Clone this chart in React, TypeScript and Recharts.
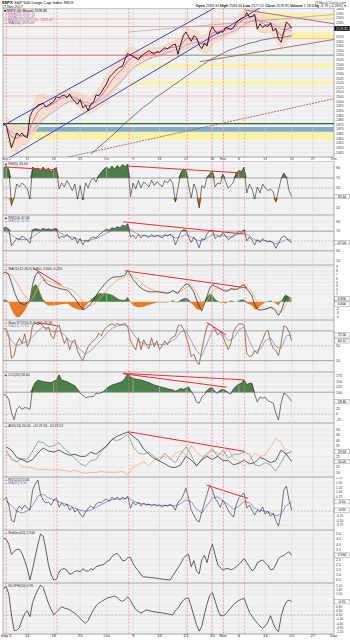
import React from 'react';
import { ComposedChart, Line, Area, XAxis, YAxis, CartesianGrid, ReferenceLine, ReferenceArea } from 'recharts';

const W = 350;
const XD: [number, number] = [-0.6, 62];
const FONT = '"Liberation Sans", Arial, sans-serif';

// ---- x axis (trading-day index, Sep 5 = 0) ----
const dateTicks = [0, 4, 9, 14, 19, 24, 29, 34, 39, 41, 44, 49, 54, 58, 62];
const dateLabels = ['Sep 5', '11', '18', '25', 'Oct', '9', '16', '23', '30', 'Nov', '6', '13', '20', '27', 'Dec'];
const markerDays = [0, 9.6, 23.2, 34.3, 38.9, 41.1, 45.1];

// ---- half-day series, t = -0.5 .. 54 ----
const priceClose = [
  2476, 2474, 2462, 2450, 2458, 2466, 2463, 2466, 2462, 2461,
  2484, 2490, 2493, 2496, 2497, 2498, 2494, 2496, 2498, 2500,
  2505, 2504, 2506, 2507, 2504, 2508, 2503, 2500, 2497, 2502,
  2493, 2496, 2490, 2497, 2499, 2507, 2506, 2510, 2515, 2519,
  2526, 2529, 2532, 2535, 2537, 2538, 2546, 2552, 2550, 2549,
  2547, 2545, 2549, 2551, 2553, 2555, 2553, 2551, 2554, 2553,
  2556, 2558, 2557, 2559, 2561, 2562, 2551, 2562, 2571, 2575,
  2570, 2565, 2571, 2569, 2561, 2557, 2563, 2560, 2574, 2581,
  2576, 2573, 2575, 2575, 2580, 2579, 2578, 2580, 2585, 2588,
  2590, 2591, 2596, 2591, 2592, 2594, 2578, 2584, 2580, 2582,
  2581, 2585, 2576, 2579, 2568, 2564, 2575, 2586, 2583, 2579,
];
const rsi5 = [
  90, 93, 88, 15, 30, 58, 52, 60, 55, 48,
  28, 92, 88, 90, 84, 92, 85, 90, 82, 88,
  91, 48, 60, 52, 65, 56, 45, 58, 28, 55,
  26, 60, 50, 65, 70, 62, 75, 82, 88, 92,
  86, 94, 88, 95, 90, 97, 93, 98, 33, 60,
  48, 65, 50, 62, 58, 52, 66, 55, 62, 58,
  52, 65, 60, 68, 60, 22, 50, 80, 88, 85,
  55, 30, 58, 45, 10, 55, 50, 72, 78, 85,
  52, 60, 58, 78, 62, 50, 55, 62, 80, 85,
  83, 92, 40, 58, 48, 28, 52, 40, 58, 50,
  45, 48, 42, 22, 45, 68, 80, 72, 45, 33,
];
const rsi14 = [
  76, 78, 74, 40, 48, 55, 52, 60, 57, 52,
  45, 73, 75, 74, 72, 76, 73, 75, 72, 74,
  76, 55, 60, 57, 63, 58, 52, 58, 45, 55,
  42, 52, 48, 56, 58, 56, 62, 66, 70, 74,
  72, 77, 75, 79, 77, 82, 80, 85, 58, 62,
  55, 63, 56, 62, 60, 57, 63, 58, 62, 60,
  56, 63, 60, 64, 60, 42, 55, 68, 73, 72,
  58, 47, 58, 50, 36, 55, 52, 66, 70, 72,
  55, 60, 58, 67, 60, 53, 56, 60, 66, 69,
  68, 73, 50, 58, 52, 42, 53, 47, 55, 50,
  48, 50, 46, 35, 45, 56, 60, 57, 50, 47,
];
const macdLine = [
  7.5, 7.8, 7.0, 5.0, 2.8, 1.0, -0.2, -0.6, -0.8, -0.3,
  0.4, 4.5, 6.8, 7.8, 7.0, 6.2, 5.0, 4.5, 4.2, 3.9,
  3.7, 3.5, 3.3, 3.2, 3.1, 2.5, 1.6, 0.8, -0.2, -1.2,
  -2.1, -1.8, -1.3, -0.5, 0.4, 1.5, 2.7, 3.5, 4.4, 5.2,
  5.8, 6.3, 6.5, 6.5, 6.5, 6.7, 7.0, 8.2, 7.0, 5.8,
  5.0, 4.2, 3.6, 3.1, 2.8, 2.6, 2.6, 2.6, 2.6, 2.5,
  2.4, 2.3, 2.2, 2.4, 3.0, 2.5, 2.2, 3.2, 3.9, 4.6,
  4.6, 3.6, 2.5, 0.5, -1.2, -2.4, -0.5, 1.5, 3.5, 4.4,
  4.0, 3.8, 3.3, 3.0, 2.7, 2.9, 3.4, 3.3, 3.2, 3.6,
  4.2, 4.4, 3.3, 2.5, 1.5, -0.8, -2.0, -2.2, -2.1, -2.0,
  -1.7, -1.4, -1.8, -2.5, -3.6, -2.5, -0.5, 1.3, 1.2, 0.8,
];
const macdSignal = [
  7.0, 7.3, 7.3, 7.0, 6.2, 5.0, 3.8, 2.6, 1.6, 0.8,
  0.3, 0.8, 2.2, 3.8, 5.0, 5.6, 5.7, 5.5, 5.2, 4.9,
  4.6, 4.3, 4.0, 3.8, 3.6, 3.4, 3.0, 2.5, 1.8, 1.0,
  0.1, -0.6, -1.0, -1.0, -0.7, -0.2, 0.5, 1.3, 2.2, 3.0,
  3.8, 4.5, 5.1, 5.6, 5.9, 6.2, 6.5, 7.0, 7.1, 6.8,
  6.3, 5.7, 5.0, 4.4, 3.9, 3.5, 3.2, 3.0, 2.8, 2.7,
  2.6, 2.5, 2.4, 2.4, 2.6, 2.6, 2.4, 2.7, 3.1, 3.6,
  4.0, 4.0, 3.5, 2.4, 1.0, -0.4, -0.6, 0.2, 1.4, 2.6,
  3.3, 3.6, 3.5, 3.3, 3.1, 3.0, 3.1, 3.2, 3.2, 3.3,
  3.6, 3.9, 3.7, 3.2, 2.5, 1.2, 0.0, -1.0, -1.5, -1.8,
  -1.8, -1.7, -1.7, -2.0, -2.6, -2.7, -1.9, -0.6, 0.2, 0.6,
];
const slowSto = [
  85, 84, 70, 25, 30, 55, 65, 55, 74, 48,
  60, 92, 95, 93, 95, 90, 82, 88, 70, 64,
  85, 92, 72, 55, 66, 42, 58, 62, 40, 28,
  20, 35, 48, 55, 60, 65, 75, 70, 82, 88,
  92, 94, 91, 95, 92, 93, 95, 88, 60, 50,
  42, 66, 42, 62, 52, 44, 66, 48, 60, 42,
  50, 60, 52, 62, 68, 70, 90, 92, 85, 70,
  52, 28, 33, 18, 12, 42, 68, 90, 94, 90,
  82, 72, 78, 68, 55, 42, 55, 78, 88, 94,
  94, 92, 35, 28, 30, 40, 34, 50, 62, 76,
  82, 58, 45, 40, 30, 55, 90, 88, 78, 60,
];
const cci = [
  90, 85, 68, 8, -25, 22, 35, 22, 30, 28,
  22, 120, 145, 154, 152, 148, 146, 145, 144, 150,
  156, 179, 156, 152, 148, 142, 135, 130, 113, 95,
  86, 75, 78, 80, 80, 96, 94, 98, 104, 118,
  126, 133, 136, 141, 144, 150, 164, 186, 168, 164,
  160, 158, 156, 152, 148, 144, 138, 133, 130, 126,
  122, 120, 116, 113, 111, 105, 110, 117, 114, 118,
  124, 103, 85, 55, 50, 78, 88, 108, 118, 120,
  102, 95, 110, 112, 108, 96, 92, 115, 128, 136,
  142, 156, 135, 141, 141, 90, 55, 78, 73, 78,
  62, 55, 50, 5, -26, 50, 95, 90, 75, 58,
];
const roc = [
  0.58, 0.74, 0.32, -0.48, -0.58, 0.05, 0.27, 0.1, 0.32, 0.16,
  0.05, 1.12, 1.44, 1.65, 0.9, 0.58, 0.43, 0.48, 0.32, 0.58,
  0.69, 0.21, 0.43, 0.27, 0.37, 0.05, 0.21, -0.05, 0.1, -0.16,
  -0.32, -0.05, 0.16, 0.27, 0.16, 0.37, 0.48, 0.43, 0.58, 0.64,
  0.53, 0.74, 0.64, 0.74, 0.58, 0.74, 0.64, 0.8, 0.16, 0.48,
  0.32, 0.48, 0.27, 0.43, 0.32, 0.37, 0.27, 0.37, 0.27, 0.32,
  0.21, 0.32, 0.27, 0.37, 0.27, 0.05, 0.48, 0.58, 0.85, 1.22,
  0.69, 0.05, -0.21, -0.48, -0.58, -0.05, 0.43, 0.9, 1.38, 1.12,
  0.69, 0.48, 0.21, 0.58, 0.32, 0.05, -0.16, -0.32, 0.32, 0.69,
  0.85, 0.96, 0.16, 0.32, 0.05, -0.21, 0.05, -0.05, 0.21, -0.16,
  0, -0.27, -0.11, -0.48, -0.8, -0.11, 1.12, 1.33, 0.58, 0.05,
];
const stdDev = [
  4.6, 4.5, 4.0, 3.0, 3.3, 3.5, 3.5, 3.1, 2.4, 1.6,
  0.5, 1.6, 2.8, 4.0, 5.0, 4.8, 3.5, 2.0, 1.0, 0.5,
  0.55, 1.3, 1.55, 1.6, 1.45, 1.05, 1.15, 1.35, 1.4, 1.3,
  1.6, 1.4, 1.35, 1.6, 1.5, 1.8, 1.9, 1.96, 2.0, 2.3,
  2.4, 2.8, 3.0, 3.1, 2.8, 2.4, 2.4, 2.7, 2.7, 2.1,
  1.7, 1.4, 1.0, 0.8, 0.78, 0.76, 0.72, 0.7, 0.66, 0.62,
  0.58, 0.55, 0.52, 0.49, 0.9, 1.3, 1.7, 2.1, 2.6, 2.9,
  3.0, 1.8, 2.4, 1.4, 1.1, 2.5, 2.9, 2.2, 3.3, 4.0,
  3.0, 2.0, 1.7, 1.47, 1.6, 1.6, 1.5, 1.6, 1.8, 2.0,
  2.3, 2.6, 2.2, 1.8, 1.4, 1.6, 2.2, 2.35, 2.45, 2.2,
  1.9, 1.5, 1.55, 2.0, 2.6, 2.8, 2.9, 3.1, 3.27, 2.9,
];
const slope = [
  1.9, 2.02, 1.5, 0.0, -1.1, -1.1, -0.9, -0.35, 0.1, 0.3,
  -0.12, 0.9, 1.4, 1.8, 2.14, 1.95, 1.4, 0.83, 0.4, 0.02,
  0.2, 0.4, 0.6, 0.5, 0.45, 0.37, 0.25, 0.12, -0.05, -0.24,
  -0.45, -0.59, -0.38, 0.0, 0.36, 0.65, 0.85, 0.95, 1.08, 1.19,
  1.26, 1.31, 1.36, 1.25, 1.07, 0.98, 1.1, 1.31, 1.05, 0.7,
  0.4, 0.25, 0.13, 0.25, 0.36, 0.32, 0.26, 0.23, 0.2, 0.17,
  0.15, 0.12, 0.08, 0.04, 0.0, 0.3, 0.5, 0.8, 1.05, 1.2,
  1.2, 0.6, -0.05, -0.7, -1.15, -0.8, 0.05, 0.8, 1.4, 1.6,
  1.05, 0.4, -0.05, -0.05, 0.05, 0.3, 0.5, 0.75, 0.9, 1.05,
  1.12, 1.19, 0.7, 0.2, -0.1, -0.35, -0.59, -0.8, -0.95, -0.8,
  -0.5, -0.05, -0.6, -1.0, -1.19, -0.12, 0.55, 0.95, 1.07, 0.95,
];

// ---- daily series, t = 0 .. 54 ----
const ema20 = [
  2474, 2462, 2460, 2463, 2463, 2478, 2489, 2494, 2495, 2498,
  2502, 2505, 2506, 2504, 2501, 2496, 2495, 2501, 2506, 2514,
  2523, 2530, 2535, 2544, 2548, 2547, 2549, 2552, 2553, 2553,
  2556, 2558, 2559, 2560, 2568, 2568, 2567, 2562, 2562, 2574,
  2576, 2576, 2578, 2579, 2585, 2589, 2591, 2592, 2586, 2583,
  2583, 2578, 2571, 2578, 2580,
];
const ema50 = [
  2470, 2467, 2464, 2463, 2463, 2468, 2475, 2481, 2485, 2489,
  2493, 2497, 2500, 2501, 2501, 2499, 2498, 2499, 2502, 2506,
  2512, 2518, 2523, 2530, 2536, 2540, 2543, 2546, 2548, 2550,
  2552, 2554, 2556, 2557, 2561, 2563, 2564, 2563, 2563, 2567,
  2570, 2572, 2574, 2576, 2579, 2583, 2586, 2588, 2587, 2586,
  2585, 2582, 2578, 2578, 2576,
];
const ma200 = [
  null, null, null, null, null, null, null, null, null, null,
  null, null, null, null, null, null, 2443, 2448, 2453, 2458,
  2463, 2468, 2474, 2479, 2484, 2489, 2494, 2498, 2503, 2507,
  2511, 2515, 2519, 2523, 2527, 2531, 2535, 2539, 2543, 2546,
  2549, 2552, 2555, 2557, 2559, 2561, 2563, 2564, 2566, 2567,
  2568, 2569, 2569, 2570, 2571,
];
const bbLower = [
  2464, 2447, 2446, 2453, 2454, 2463, 2471, 2480, 2486, 2491,
  2495, 2499, 2500, 2498, 2493, 2487, 2487, 2491, 2494, 2500,
  2508, 2516, 2523, 2531, 2537, 2540, 2543, 2546, 2548, 2548,
  2551, 2553, 2552, 2552, 2557, 2558, 2558, 2553, 2552, 2561,
  2565, 2568, 2572, 2573, 2577, 2580, 2583, 2584, 2575, 2574,
  2575, 2567, 2558, 2566, 2570,
];
const bbUpper = [
  2484, 2477, 2474, 2473, 2472, 2493, 2507, 2508, 2504, 2505,
  2509, 2511, 2512, 2510, 2509, 2505, 2503, 2511, 2518, 2528,
  2538, 2544, 2547, 2557, 2559, 2554, 2555, 2558, 2558, 2558,
  2561, 2563, 2566, 2568, 2579, 2578, 2576, 2571, 2572, 2587,
  2587, 2584, 2584, 2585, 2593, 2598, 2599, 2600, 2597, 2592,
  2591, 2589, 2584, 2590, 2590,
];
const rsi14Ma = [
  70, 62, 55, 53, 53, 58, 66, 72, 73, 74,
  68, 62, 59, 56, 52, 50, 52, 55, 60, 66,
  71, 75, 78, 79, 70, 63, 61, 60, 60, 60,
  61, 62, 56, 58, 64, 58, 52, 50, 56, 63,
  62, 62, 58, 60, 64, 68, 60, 52, 50, 51,
  49, 44, 48, 53, 52,
];
const stoMa = [
  75, 60, 50, 55, 58, 68, 80, 88, 85, 78,
  80, 72, 60, 55, 42, 33, 40, 52, 62, 75,
  85, 90, 92, 90, 75, 60, 54, 52, 54, 52,
  53, 58, 64, 78, 80, 60, 40, 30, 55, 80,
  82, 74, 60, 65, 82, 88, 60, 38, 42, 60,
  66, 48, 45, 70, 72,
];
const rocMa = [
  0.5, 0.3, 0.0, -0.1, 0.0, 0.3, 0.8, 0.9, 0.7, 0.6,
  0.5, 0.4, 0.3, 0.15, 0.05, 0.0, 0.05, 0.2, 0.35, 0.5,
  0.6, 0.65, 0.65, 0.7, 0.55, 0.42, 0.38, 0.35, 0.33, 0.32,
  0.3, 0.3, 0.28, 0.4, 0.6, 0.5, 0.1, -0.1, 0.3, 0.7,
  0.75, 0.55, 0.35, 0.1, 0.25, 0.5, 0.45, 0.15, 0.05, 0.0,
  -0.1, -0.25, -0.15, 0.3, 0.5,
];
const adx = [
  34, 31, 24, 22, 19.5, 22, 28, 33, 30, 29,
  31, 28, 26, 27, 25, 25, 29, 27, 31, 35,
  41, 44, 46, 48, 44, 40, 32, 27, 23, 20.5,
  18, 15, 14.5, 17, 25, 21.6, 16, 22, 25, 22,
  25, 21, 21, 17, 18.5, 21.6, 18, 19, 24, 22,
  19, 21, 31, 27, 20,
];
const plusDi = [
  31, 22, 20, 23, 22, 30, 39, 38, 34, 35,
  38, 32, 28, 23, 18, 16, 21, 22, 30, 34,
  41, 40, 42, 46, 34, 28, 27, 29, 25, 21,
  28, 23, 19, 27, 34, 26, 16, 22, 28, 32,
  25, 31, 23, 27, 27, 29, 27, 17, 16, 19,
  17, 11, 19, 28, 29.5,
];
const minusDi = [
  27, 24, 20, 15, 15, 14, 12, 13, 12, 12.5,
  12, 12, 10.6, 12, 10, 9, 10, 9.5, 11, 10,
  10, 10, 11, 7.4, 15, 17, 20, 16, 22, 24,
  25, 22, 28, 30, 26, 35, 29, 25, 26, 30,
  28, 26, 33, 23, 20, 15.3, 21, 28, 25, 26,
  34, 42, 38, 27, 29.5,
];

// ---- annotation levels (data units) ----
type Pt = [number, number];
const blueChannel: [Pt, Pt][] = [[[-1.2, 2472], [40, 2603]], [[-1.2, 2433], [48.5, 2603]]];
const brownLines: [Pt, Pt][] = [[[45.1, 2599], [62, 2584]], [[36.6, 2543], [62, 2567]]];
const grayLines: [Pt, Pt][] = [[[23, 2575], [62, 2594]]];
const dashedLines: [Pt, Pt][] = [[[10.2, 2438], [62, 2503]]];
const pinkLevels = [2589, 2568, 2506];
const redLevels = [2581];
const supportRed = 2550;
const darkGreenLevel = 2476;
const yellowBands: [number, number, number][] = [[22.8, 2537, 2541], [23, 2518, 2522], [0.8, 2458.6, 2467.2], [44.7, 2590, 2595], [51.5, 2567, 2575]];
const blueBand: [number, number, number] = [0.8, 2467.2, 2472.4];

const rsi5Red: [Pt, Pt][] = [[[-0.2, 92], [9.6, 86]], [[23, 94], [44.7, 80]]];
const rsi14Red: [Pt, Pt][] = [[[22.1, 89], [45.1, 64]]];
const macdRed: [Pt, Pt][] = [[[5.1, 8.8], [10.5, 4.3]], [[22.4, 8.1], [45.5, 3.6]]];
const stoRed: [Pt, Pt][] = [[[5.8, 97], [9.8, 90]], [[37.9, 97], [41.6, 72]]];
const cciRed: [Pt, Pt][] = [[[22.1, 186], [45.1, 156]], [[22.1, 184], [41.7, 123]]];
const adxRed: [Pt, Pt][] = [[[23, 48.3], [45.1, 29.7]]];
const rocRed: [Pt, Pt][] = [[[37.9, 1.38], [45.7, 0.68]]];

const priceTicks = [2445, 2450, 2455, 2460, 2465, 2470, 2475, 2480, 2485, 2490, 2495, 2500, 2505, 2510, 2515, 2520, 2525, 2530, 2535, 2540, 2545, 2550, 2555, 2560, 2565, 2570, 2575, 2580, 2585, 2590, 2595, 2600];
const rsiTicks = [10, 30, 50, 70, 90];
const macdTicks = [-4, -3, -2, -1, 0, 1, 2, 3, 4, 5, 6, 7, 8, 9];
const stoTicks = [20, 50, 80];
const cciTicks = [-25, 0, 25, 50, 75, 100, 125, 150, 175];
const adxTicks = [10, 15, 20, 25, 30, 35, 40, 45, 50];
const rocTicks = [-0.75, -0.5, -0.25, 0, 0.25, 0.5, 0.75, 1, 1.25, 1.5, 1.75];
const stdTicks = [0.5, 1, 1.5, 2, 2.5, 3, 3.5, 4, 4.5, 5];
const slopeTicks = [-1.2, -0.9, -0.6, -0.3, 0, 0.3, 0.6, 0.9, 1.2, 1.5, 1.8, 2.1];

// current-value tags on the right axis
type Tag = { v: number; text: string; bg?: string; fg?: string; border?: string };
const priceTags: Tag[] = [{ v: 2578.85, text: '2578.85', bg: '#000', fg: '#fff', border: '#000' }];
const rsi5Tags: Tag[] = [{ v: 33, text: '33.44' }];
const rsi14Tags: Tag[] = [{ v: 47, text: '47.04' }];
const macdTags: Tag[] = [{ v: 0.8, text: '0.850' }, { v: -0.6, text: '0.600' }];
const stoTags: Tag[] = [{ v: 60, text: '60.12' }, { v: 72, text: '72.56' }];
const cciTags: Tag[] = [{ v: 58, text: '58.40' }];
const adxTags: Tag[] = [{ v: 29.5, text: '29.54' }, { v: 20, text: '20.05' }];
const rocTags: Tag[] = [{ v: 0.5, text: '0.50' }, { v: 0.05, text: '0.05' }];
const stdTags: Tag[] = [{ v: 2.94, text: '2.944' }];
const slopeTags: Tag[] = [{ v: 0.95, text: '0.95' }];

// ---- build the table ----
const table = priceClose.map((c, i) => {
  const t = -0.5 + i * 0.5;
  const hist = macdLine[i] - macdSignal[i];
  const row: any = {
    t, close: c,
    rsi5: rsi5[i], rsi5Hi: Math.max(rsi5[i], 70), rsi5Lo: Math.min(rsi5[i], 30),
    rsi14: rsi14[i], rsi14Hi: Math.max(rsi14[i], 70),
    macd: macdLine[i], signal: macdSignal[i], histPos: Math.max(hist, 0), histNeg: Math.min(hist, 0),
    sto: slowSto[i],
    cci: cci[i], cciHi: Math.max(cci[i], 100),
    roc: roc[i], std: stdDev[i], slope: slope[i],
  };
  if (Number.isInteger(t) && t >= 0) {
    row.ema20 = ema20[t]; row.ema50 = ema50[t]; row.ma200 = ma200[t];
    row.bb = [bbLower[t], bbUpper[t]];
    row.rsi14Ma = rsi14Ma[t]; row.stoMa = stoMa[t]; row.rocMa = rocMa[t];
    row.adx = adx[t]; row.pdi = plusDi[t]; row.mdi = minusDi[t];
  }
  return row;
});

const GREEN = '#4b8048';
const ORANGE = '#e57c2c';
const RED = '#ff2a2a';

function ValTag(props: any) {
  const { viewBox, text, fg = '#000', border = '#777', bg = '#fff' } = props;
  if (!viewBox) return null;
  const x = (viewBox.x ?? 0) + (viewBox.width ?? 0) + 0.5;
  const y = viewBox.y ?? 0;
  return (
    <g>
      <rect x={x} y={y - 2.2} width={15} height={4.4} fill={bg} stroke={border} strokeWidth={0.4} />
      <text x={x + 7.5} y={y + 1.3} fontSize={3.4} textAnchor="middle" fill={fg} fontFamily={FONT}>{text}</text>
    </g>
  );
}

type PanelProps = {
  top: number; height: number; domain: [number, number]; ticks: number[]; tags?: Tag[];
  fmt?: (v: number) => string; axis?: number; axisFont?: number; tickFont?: number; children?: React.ReactNode;
};

function Panel({ top, height, domain, ticks, tags = [], fmt, axis = 0, axisFont = 3.6, tickFont = 3.6, children }: PanelProps) {
  const pxPerUnit = (height - axis) / (domain[1] - domain[0]);
  const shownTicks = ticks.filter((tk) => tags.every((g) => Math.abs(tk - g.v) * pxPerUnit > 4.2));
  return (
    <div style={{ position: 'absolute', left: 0, top, width: W, height }}>
      <ComposedChart width={W} height={height} data={table} margin={{ top: 0, right: 0, bottom: 0, left: 3 }}>
        <CartesianGrid vertical={false} stroke="#e1e1e1" strokeWidth={0.5} fill="#f2f2f2" />
        <XAxis type="number" dataKey="t" domain={XD} ticks={dateTicks} allowDataOverflow interval={0}
          height={axis} axisLine={false} tickLine={false} tickSize={0} tickMargin={0.2}
          tick={axis ? { fontSize: axisFont, fill: '#222', fontFamily: FONT } : false}
          tickFormatter={(v: number) => dateLabels[dateTicks.indexOf(v)] ?? ''} />
        <YAxis orientation="right" width={16} domain={domain} ticks={shownTicks} allowDataOverflow interval={0}
          axisLine={false} tickLine={false} tickSize={0} tickMargin={2}
          tick={{ fontSize: tickFont, fill: '#333', fontFamily: FONT }} tickFormatter={fmt} />
        {dateTicks.map((d) => <ReferenceLine key={'g' + d} x={d} stroke="#d4d4d4" strokeWidth={0.5} />)}
        {children}
        {markerDays.map((d) => <ReferenceLine key={'m' + d} x={d} stroke="#ff7a7a" strokeWidth={0.6} strokeDasharray="2 1.5" />)}
        <ReferenceArea x1={XD[0]} x2={XD[1]} y1={domain[0]} y2={domain[1]} fill="none" stroke="#8c8c8c" strokeWidth={0.7} />
        {tags.map((g, i) => (
          <ReferenceLine key={'tag' + i} y={g.v} stroke="none"
            label={<ValTag text={g.text} bg={g.bg} fg={g.fg} border={g.border} />} />
        ))}
      </ComposedChart>
    </div>
  );
}

const segs = (list: [Pt, Pt][], color: string, w: number, dash?: string, key = 's') =>
  list.map((s, i) => (
    <ReferenceLine key={key + i} segment={[{ x: s[0][0], y: s[0][1] }, { x: s[1][0], y: s[1][1] }]}
      stroke={color} strokeWidth={w} strokeDasharray={dash} ifOverflow="hidden" />
  ));

const lineProps = { dot: false, activeDot: false, isAnimationActive: false, type: 'linear' as const };
const fillProps = { stroke: 'none', fillOpacity: 1, isAnimationActive: false, dot: false, activeDot: false };

export default function App() {
  const txt = (x: number, y: number, s: string, color = '#000', size = 3.6, anchor: any = 'start') => (
    <text x={x} y={y} fontSize={size} fill={color} textAnchor={anchor} fontFamily={FONT}>{s}</text>
  );
  return (
    <div style={{ position: 'absolute', left: 0, top: 0, width: 350, height: 640, background: '#fff', fontFamily: FONT }}>
      {/* Price */}
      <Panel top={8} height={153} domain={[2440, 2601]} ticks={priceTicks} tags={priceTags} axis={4} axisFont={3.4} tickFont={3.4}>
        {yellowBands.map((b, i) => (
          <ReferenceArea key={'yb' + i} x1={b[0]} x2={XD[1]} y1={b[1]} y2={b[2]} fill="#fbf29a" fillOpacity={0.85} stroke="none" />
        ))}
        <ReferenceArea x1={blueBand[0]} x2={XD[1]} y1={blueBand[1]} y2={blueBand[2]} fill="#7fa7c6" fillOpacity={0.95} stroke="none" />
        {pinkLevels.map((v) => <ReferenceLine key={'pk' + v} y={v} stroke="#f2a4a4" strokeWidth={0.6} />)}
        {redLevels.map((v) => <ReferenceLine key={'rd' + v} y={v} stroke="#ee7a7a" strokeWidth={0.6} />)}
        <ReferenceLine segment={[{ x: XD[0], y: supportRed }, { x: 32.5, y: supportRed }]} stroke="#e84545" strokeWidth={0.8} />
        <ReferenceLine segment={[{ x: 32.5, y: supportRed }, { x: XD[1], y: supportRed }]} stroke="#4f8f4f" strokeWidth={0.8} />
        <ReferenceLine y={darkGreenLevel} stroke="#2e6b2e" strokeWidth={1.3} />
        <Area dataKey="bb" connectNulls fill="#f9dcc8" fillOpacity={0.9} stroke="#f1b995" strokeWidth={0.4} isAnimationActive={false} dot={false} activeDot={false} />
        {segs(blueChannel, '#2b2bdc', 0.9, undefined, 'bc')}
        {segs(brownLines, '#a34f4f', 0.8, undefined, 'br')}
        {segs(grayLines, '#9a9a9a', 0.6, undefined, 'gr')}
        {segs(dashedLines, '#8a5a4a', 0.8, '2 1', 'dl')}
        <Line dataKey="ma200" connectNulls stroke="#55557a" strokeWidth={0.8} {...lineProps} />
        <Line dataKey="ema50" connectNulls stroke="#9a9ae0" strokeWidth={0.8} {...lineProps} />
        <Line dataKey="ema20" connectNulls stroke="#f052a8" strokeWidth={0.9} {...lineProps} />
        <Line dataKey="close" stroke="#111" strokeWidth={0.9} {...lineProps} />
      </Panel>

      {/* RSI(5) */}
      <Panel top={161} height={54} domain={[-4, 104]} ticks={rsiTicks} tags={rsi5Tags}>
        <ReferenceLine y={70} stroke="#8a8a8a" strokeWidth={0.7} />
        <ReferenceLine y={30} stroke="#8a8a8a" strokeWidth={0.7} />
        <ReferenceLine y={50} stroke="#999" strokeWidth={0.5} strokeDasharray="2 1.5" />
        <Area dataKey="rsi5Hi" baseValue={70} fill={GREEN} {...fillProps} />
        <Area dataKey="rsi5Lo" baseValue={30} fill={ORANGE} {...fillProps} />
        <Line dataKey="rsi5" stroke="#222" strokeWidth={0.6} {...lineProps} />
        {segs(rsi5Red, RED, 1, undefined, 'r5')}
      </Panel>

      {/* RSI(14) */}
      <Panel top={215} height={50} domain={[1, 103]} ticks={rsiTicks} tags={rsi14Tags}>
        <ReferenceLine y={70} stroke="#8a8a8a" strokeWidth={0.7} />
        <ReferenceLine y={30} stroke="#8a8a8a" strokeWidth={0.7} />
        <ReferenceLine y={50} stroke="#999" strokeWidth={0.5} strokeDasharray="2 1.5" />
        <Area dataKey="rsi14Hi" baseValue={70} fill={GREEN} {...fillProps} />
        <Line dataKey="rsi14Ma" connectNulls stroke="#7a7acc" strokeWidth={0.7} {...lineProps} />
        <Line dataKey="rsi14" stroke="#222" strokeWidth={0.6} {...lineProps} />
        {segs(rsi14Red, RED, 1, undefined, 'r14')}
      </Panel>

      {/* MACD */}
      <Panel top={265} height={55} domain={[-4.8, 9.6]} ticks={macdTicks} tags={macdTags} tickFont={3.1}>
        <Area dataKey="histPos" baseValue={0} fill={GREEN} {...fillProps} />
        <Area dataKey="histNeg" baseValue={0} fill={ORANGE} {...fillProps} />
        <Line dataKey="signal" stroke="#f4a46c" strokeWidth={0.8} {...lineProps} />
        <Line dataKey="macd" stroke="#222" strokeWidth={0.7} {...lineProps} />
        {segs(macdRed, RED, 1, undefined, 'md')}
      </Panel>

      {/* Slow STO */}
      <Panel top={320} height={52} domain={[-3, 102]} ticks={stoTicks} tags={stoTags}>
        <ReferenceLine y={80} stroke="#8a8a8a" strokeWidth={0.7} />
        <ReferenceLine y={20} stroke="#8a8a8a" strokeWidth={0.7} />
        <ReferenceLine y={50} stroke="#999" strokeWidth={0.5} strokeDasharray="2 1.5" />
        <Line dataKey="stoMa" connectNulls stroke="#8080c8" strokeWidth={0.7} {...lineProps} />
        <Line dataKey="sto" stroke="#e39a68" strokeWidth={0.9} {...lineProps} />
        <Line dataKey="sto" stroke="#333" strokeWidth={0.35} {...lineProps} />
        {segs(stoRed, RED, 1, undefined, 'st')}
      </Panel>

      {/* CCI */}
      <Panel top={372} height={51} domain={[-40, 192]} ticks={cciTicks} tags={cciTags}>
        <ReferenceLine y={100} stroke="#8a8a8a" strokeWidth={0.7} />
        <ReferenceLine y={0} stroke="#999" strokeWidth={0.5} strokeDasharray="2 1.5" />
        <Area dataKey="cciHi" baseValue={100} fill={GREEN} {...fillProps} />
        <Line dataKey="cci" stroke="#222" strokeWidth={0.6} {...lineProps} />
        {segs(cciRed, RED, 1, undefined, 'cc')}
      </Panel>

      {/* ADX */}
      <Panel top={423} height={54} domain={[5.5, 56.5]} ticks={adxTicks} tags={adxTags}>
        <Line dataKey="mdi" connectNulls stroke="#f2a46e" strokeWidth={0.7} {...lineProps} />
        <Line dataKey="pdi" connectNulls stroke="#6f8f74" strokeWidth={0.7} {...lineProps} />
        <Line dataKey="adx" connectNulls stroke="#222" strokeWidth={0.7} {...lineProps} />
        {segs(adxRed, RED, 1, undefined, 'ad')}
      </Panel>

      {/* ROC */}
      <Panel top={477} height={53} domain={[-1.0, 1.81]} ticks={rocTicks} tags={rocTags} fmt={(v) => v.toFixed(2)} tickFont={3.2}>
        <ReferenceLine y={0} stroke="#999" strokeWidth={0.5} strokeDasharray="2 1.5" />
        <Line dataKey="rocMa" connectNulls stroke="#6a6ad0" strokeWidth={0.7} {...lineProps} />
        <Line dataKey="roc" stroke="#222" strokeWidth={0.6} {...lineProps} />
        {segs(rocRed, RED, 1, undefined, 'rc')}
      </Panel>

      {/* Std Dev */}
      <Panel top={530} height={53} domain={[0.2, 5.4]} ticks={stdTicks} tags={stdTags} fmt={(v) => v.toFixed(1)}>
        <Line dataKey="std" stroke="#222" strokeWidth={0.7} {...lineProps} />
      </Panel>

      {/* Slope */}
      <Panel top={583} height={57} domain={[-1.36, 2.29]} ticks={slopeTicks} tags={slopeTags} fmt={(v) => v.toFixed(2)} axis={6} axisFont={4.2} tickFont={3.2}>
        <ReferenceLine y={0} stroke="#999" strokeWidth={0.5} strokeDasharray="2 1.5" />
        <Line dataKey="slope" stroke="#222" strokeWidth={0.7} {...lineProps} />
      </Panel>

      {/* text overlay */}
      <svg width={350} height={640} style={{ position: 'absolute', left: 0, top: 0, pointerEvents: 'none' }}>
        <text x={2} y={4} fontSize={4.2} fontFamily={FONT}><tspan fontWeight="bold">$SPX</tspan> S&amp;P 500 Large Cap Index INDX</text>
        {txt(2, 7.6, '17-Nov-2017', '#222', 3.6)}
        {txt(346, 3.6, '@StockCharts.com', '#444', 3.6, 'end')}
        <text x={346} y={7.4} fontSize={3.6} textAnchor="end" fontFamily={FONT} fill="#111">
          <tspan fontWeight="bold">Open</tspan> 2583.34 <tspan fontWeight="bold">High</tspan> 2583.36 <tspan fontWeight="bold">Low</tspan> 2577.02 <tspan fontWeight="bold">Close</tspan> 2578.85 <tspan fontWeight="bold">Volume</tspan> 2.1B <tspan fontWeight="bold">Chg</tspan> -6.79 (-0.26%) <tspan fill="#2b2bdc">▾</tspan>
        </text>
        {txt(4, 11.8, '■ $SPX (60 Minute) 2578.85', '#000', 3.4)}
        {txt(4, 14.8, '— EMA(20) 2579.71', '#f052a8', 3.4)}
        {txt(4, 17.8, '— EMA(50) 2575.47', '#7a7ad8', 3.4)}
        {txt(4, 20.8, '— BB(20,2.0) 2571.70 - 2591.41', '#e05050', 3.4)}
        {txt(4, 23.8, '— MA(200) 2571.07', '#55557a', 3.4)}
        {txt(4, 165, '▲ RSI(5) 33.44', '#222', 3.4)}
        {txt(4, 219, '▲ RSI(14) 47.04', '#222', 3.4)}
        {txt(4, 222.2, '— MA(10) 51.94', '#7a7acc', 3.4)}
        {txt(4, 269.5, '— MACD(12,26,9) 0.850, 0.600, 0.250', '#222', 3.4)}
        {txt(4, 324, '— Slow STO(14,3) 60.12, 72.56', '#222', 3.4)}
        {txt(4, 327.2, '— MA(10) 71.60', '#8080c8', 3.4)}
        {txt(4, 376, '▲ CCI(20) 58.40', '#222', 3.4)}
        {txt(4, 427, '— ADX(14) 20.05, +DI 29.54, -DI 29.52', '#222', 3.4)}
        {txt(4, 481, '— ROC(12) 0.05', '#222', 3.4)}
        {txt(4, 484.2, '— MA(10) 0.50', '#6a6ad0', 3.4)}
        {txt(4, 534, '— StdDev(20) 2.944', '#222', 3.4)}
        {txt(4, 587, '— SLOPE(20) 0.95', '#222', 3.4)}
      </svg>
    </div>
  );
}
